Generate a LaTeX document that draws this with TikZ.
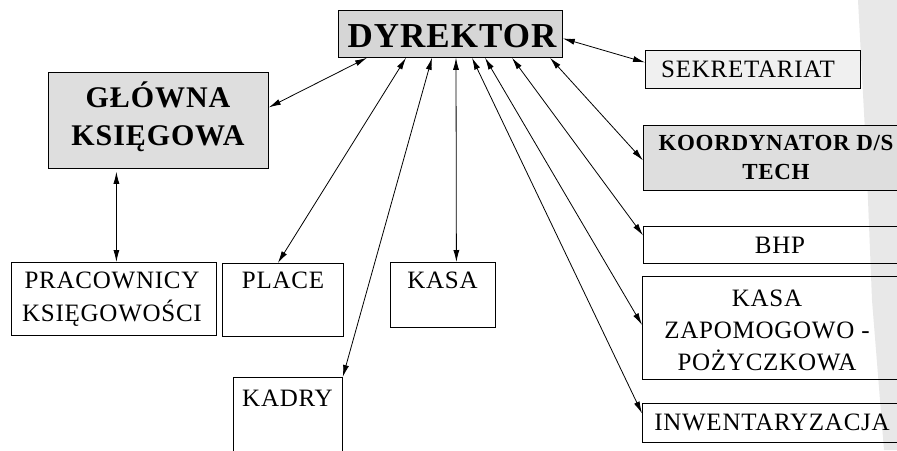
\documentclass[tikz,border=0pt]{standalone}
\usepackage{fontspec}
\setmainfont[LetterSpace=3]{Liberation Serif}
\usetikzlibrary{arrows.meta,calc}
\begin{document}
\begin{tikzpicture}[x=1pt,y=-1pt,
  box/.style={draw=black, line width=0.8pt, inner sep=0pt, anchor=north west},
  reg/.style={font=\fontsize{25}{32}\selectfont, inner sep=0pt, align=center},
  biarrow/.style={{Latex[length=12pt,width=6pt]}-{Latex[length=12pt,width=6pt]}, line width=0.8pt}]
\useasboundingbox (0,0) rectangle (897,450);
\clip (0,0) rectangle (897,450);
\fill[white] (0,0) rectangle (897,450);
% page-edge shading
\fill[gray!18] (858,0) -- (897,0) -- (897,450) -- (884,450) -- (872,300) -- (866,150) -- cycle;
% boxes
\node[box, fill=gray!32, minimum width=224pt, minimum height=47pt] (dyr) at (338,10) {};
\node[font=\bfseries\fontsize{35}{40}\selectfont, inner sep=0pt] at (452,36) {DYREKTOR};
\node[box, fill=gray!26, minimum width=220pt, minimum height=96pt] (gl) at (48,72) {};
\node[font=\bfseries\fontsize{30}{38}\selectfont, inner sep=0pt, align=center] at (158,117) {GŁÓWNA\\KSIĘGOWA};
\node[box, fill=gray!12, minimum width=215pt, minimum height=38pt] (sek) at (645,50) {};
\node[reg] at (748,69) {SEKRETARIAT};
\node[box, fill=gray!26, minimum width=280pt, minimum height=65pt] (koord) at (643,125) {};
\node[font=\bfseries\fontsize{23}{29}\selectfont, inner sep=0pt, align=center, anchor=north] at (776,135) {KOORDYNATOR D/S\\TECH};
\node[box, minimum width=280pt, minimum height=37pt] (bhp) at (643,226) {};
\node[reg] at (780,245) {BHP};
\node[box, minimum width=280pt, minimum height=103pt] (kz) at (642,276) {};
\node[reg, anchor=north] at (767,290) {KASA\\ZAPOMOGOWO -\\POŻYCZKOWA};
\node[box, minimum width=280pt, minimum height=39pt] (inw) at (642,403) {};
\node[reg] at (772,422) {INWENTARYZACJA};
\node[box, minimum width=205pt, minimum height=73pt] (prac) at (11,262) {};
\node[reg, anchor=north, font=\fontsize{25}{33}\selectfont] at (112,272) {PRACOWNICY\\KSIĘGOWOŚCI};
\node[box, minimum width=121pt, minimum height=73pt] (place) at (222,263) {};
\node[reg, anchor=north] at (283,272) {PLACE};
\node[box, minimum width=105pt, minimum height=65pt] (kasa) at (390,262) {};
\node[reg, anchor=north] at (442.5,272) {KASA};
\node[box, minimum width=109pt, minimum height=80pt] (kadry) at (233,377) {};
\node[reg, anchor=north] at (287.5,390) {KADRY};
% connectors
\draw[biarrow] ([xshift=29pt]dyr.south west) -- ([yshift=13pt]gl.east);
\draw[biarrow] ([xshift=-42pt,yshift=-3pt]gl.south) -- ([xshift=2.5pt]prac.north);
\draw[biarrow] ([xshift=68pt]dyr.south west) -- ([xshift=-5pt]place.north);
\draw[biarrow] ([xshift=94pt]dyr.south west) -- (kadry.north east);
\draw[biarrow] ([xshift=118pt]dyr.south west) -- ([xshift=13.5pt]kasa.north);
\draw[biarrow] ([xshift=134pt]dyr.south west) -- ([yshift=9.5pt]inw.west);
\draw[biarrow] ([xshift=147pt]dyr.south west) -- ([yshift=3pt]kz.west);
\draw[biarrow] ([xshift=174pt]dyr.south west) -- ([yshift=9.5pt]bhp.west);
\draw[biarrow] ([xshift=212pt]dyr.south west) -- ([yshift=-2.5pt]koord.west);
\draw[biarrow] ([yshift=-4.5pt]dyr.east) -- ([yshift=7pt]sek.west);
\end{tikzpicture}
\end{document}
